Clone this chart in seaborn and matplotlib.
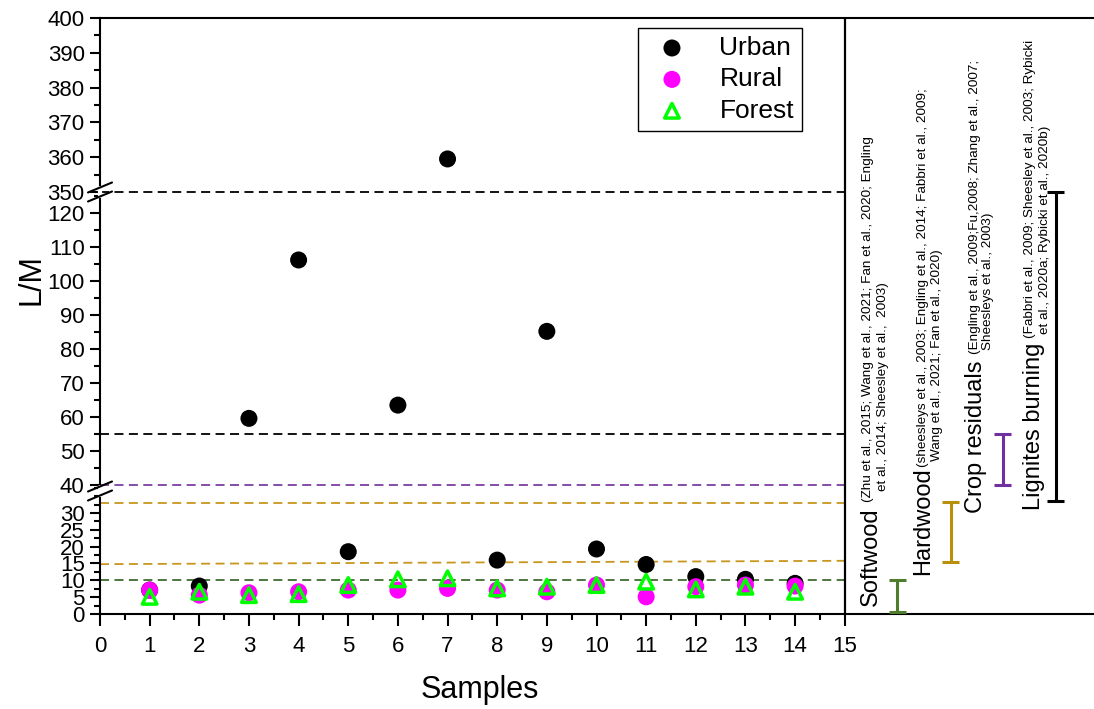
import numpy as np
import pandas as pd
import seaborn as sns
import matplotlib.pyplot as plt
from matplotlib.lines import Line2D
from matplotlib.ticker import MultipleLocator

sns.set_style('white')
plt.rcParams['font.family'] = ['Liberation Sans', 'DejaVu Sans']
plt.rcParams['text.color'] = 'black'
plt.rcParams['xtick.color'] = 'black'
plt.rcParams['ytick.color'] = 'black'
plt.rcParams['axes.labelcolor'] = 'black'

# L/M ratio per sample
samples = list(range(1, 15))
urban = [7.1, 8.3, 59.6, 106.2, 18.5, 63.5, 359.5, 16.0, 85.2, 19.3, 14.7, 11.1, 10.3, 9.1]
rural = [7.1, 5.6, 6.3, 6.6, 7.1, 7.1, 7.6, 7.1, 6.6, 8.6, 5.1, 8.1, 8.6, 8.3]
forest = [5.1, 6.6, 5.6, 5.9, 8.6, 10.3, 10.6, 7.6, 8.1, 8.6, 9.6, 7.3, 8.1, 6.6]

# literature ranges of L/M for emission sources
source_names = ['Softwood', 'Hardwood', 'Crop residuals', 'Lignites burning']
source_low = [0.7, 15.4, 40, 33.6]
source_high = [10, 33.2, 55, 350]
source_refs = [
    ['(Zhu et al., 2015; Wang et al., 2021; Fan et al., 2020; Engling',
     'et al., 2014; Sheesley et al.,  2003)'],
    ['(sheesleys et al., 2003; Engling et al., 2014; Fabbri et al., 2009;',
     'Wang et al., 2021; Fan et al., 2020)'],
    ['(Engling et al., 2009;Fu,2008; Zhang et al., 2007;',
     'Sheesleys et al., 2003)'],
    ['(Fabbri et al., 2009; Sheesley et al., 2003; Rybicki',
     'et al., 2020a; Rybicki et al., 2020b)'],
]
source_colors = ['#4e7d2e', '#b8900a', '#7030a0', 'black']

# dashed reference levels
ref_levels = [10, 33, 40, 55, 350]
ref_colors = ['#3f6b30', '#c8961e', '#7b3fa0', 'black', 'black']
slant_level = [14.8, 15.8]

W, H = 1094, 709
def fx(p):
    return p / W
def fy(p):
    return 1 - p / H

fig = plt.figure(figsize=(W / 100, H / 100), dpi=100)
left, right = fx(100), fx(1093)
ax_top = fig.add_axes([left, fy(192), right - left, fy(18) - fy(192)])
ax_mid = fig.add_axes([left, fy(485), right - left, fy(192) - fy(485)])
ax_bot = fig.add_axes([left, fy(614), right - left, fy(485) - fy(614)])
axes = [ax_top, ax_mid, ax_bot]
ax_top.set_ylim(350, 400)
ax_mid.set_ylim(40, 126.2)
ax_bot.set_ylim(0, 38.3)

for ax in axes:
    ax.set_xlim(0, 20)
    ax.set_facecolor('none')
    for s in ax.spines.values():
        s.set_linewidth(1.5)
        s.set_color('black')
    ax.spines['right'].set_visible(False)
    ax.tick_params(axis='y', which='major', direction='out', length=7, width=1.5,
                   labelsize=16, pad=4, left=True, colors='black')
    ax.tick_params(axis='y', which='minor', direction='out', length=4, width=1.5, left=True)
    ax.tick_params(axis='x', bottom=False, labelbottom=False)
    ax.axvline(15, color='black', lw=1.6, zorder=4)

ax_top.spines['bottom'].set_visible(False)
ax_mid.spines['top'].set_visible(False)
ax_mid.spines['bottom'].set_visible(False)
ax_bot.spines['top'].set_visible(False)

ax_top.set_yticks(range(350, 401, 10))
ax_top.yaxis.set_minor_locator(MultipleLocator(5))
ax_mid.set_yticks(range(40, 121, 10))
ax_mid.yaxis.set_minor_locator(MultipleLocator(5))
ax_bot.set_yticks(range(0, 31, 5))
ax_bot.yaxis.set_minor_locator(MultipleLocator(2.5))

ax_bot.set_xticks(range(0, 16))
ax_bot.set_xticks(np.arange(0.5, 15, 1), minor=True)
ax_bot.tick_params(axis='x', which='major', bottom=True, labelbottom=True, direction='out',
                   length=8.5, width=1.5, labelsize=16, pad=7)
ax_bot.tick_params(axis='x', which='minor', bottom=True, direction='out', length=4.3, width=1.5)

# dashed reference lines
for v, c in zip(ref_levels, ref_colors):
    for ax in axes:
        lo, hi = ax.get_ylim()
        if lo <= v <= hi:
            ax.plot([0, 15], [v, v], color=c, lw=1.3, ls=(0, (5, 3)), clip_on=False, zorder=1)
ax_bot.plot([0, 15], slant_level, color=ref_colors[1], lw=1.3, ls=(0, (5, 3)), zorder=1)

# scatter points
df = pd.DataFrame({'Sample': samples, 'Urban': urban, 'Rural': rural, 'Forest': forest})
for ax in axes:
    sns.scatterplot(data=df, x='Sample', y='Urban', ax=ax, color='black', s=150,
                    edgecolor='none', zorder=3, label='Urban')
    sns.scatterplot(data=df, x='Sample', y='Rural', ax=ax, color='#ff00ff', s=150,
                    edgecolor='none', zorder=3, label='Rural')
    sns.scatterplot(data=df, x='Sample', y='Forest', ax=ax, marker='^', s=110,
                    facecolors='none', edgecolor='#00ff00', linewidth=2.5, zorder=3,
                    label='Forest')
    if ax.get_legend() is not None:
        ax.get_legend().remove()
    ax.set_xlabel('')
    ax.set_ylabel('')

# source range bars
bar_x = [16.06, 17.13, 18.18, 19.25]
cap = 0.17
for x, lo, hi, c in zip(bar_x, source_low, source_high, source_colors):
    for ax in axes:
        ax.vlines(x, lo, hi, color=c, lw=2.2, zorder=3)
        ylo, yhi = ax.get_ylim()
        for v in (lo, hi):
            if ylo <= v <= yhi:
                ax.hlines(v, x - cap, x + cap, color=c, lw=2.2, clip_on=False, zorder=3)

handles, labels = ax_bot.get_legend_handles_labels()
leg = fig.legend(handles[:3], labels[:3], loc='upper right', bbox_to_anchor=(fx(802), fy(28)),
                 fontsize=19, frameon=True, fancybox=False, framealpha=1, edgecolor='black',
                 borderpad=0.3, labelspacing=0.28, handletextpad=0.8, handlelength=2,
                 borderaxespad=0)
leg.get_frame().set_linewidth(1)

# axis break marks
for yc in (192, 491):
    fig.add_artist(Line2D([fx(100), fx(100)], [fy(yc - 4), fy(yc + 4)], color='white',
                          lw=3, transform=fig.transFigure, zorder=5))
    for dy in (-4.5, 4.5):
        fig.add_artist(Line2D([fx(88), fx(112)], [fy(yc + dy + 5), fy(yc + dy - 5)],
                              color='black', lw=1.5, transform=fig.transFigure, zorder=6))

# source labels and references
label_pos = [(877, 606), (929, 575), (982, 513), (1040, 510)]
ref1_pos = [(871, 502), (926, 467), (978, 354), (1033, 338)]
ref2_pos = [(886, 491), (940, 461), (991, 350), (1048, 334)]
for name, refs, p, r1, r2 in zip(source_names, source_refs, label_pos, ref1_pos, ref2_pos):
    fig.text(fx(p[0]), fy(p[1]), name, rotation=90, rotation_mode='anchor',
             ha='left', va='baseline', fontsize=17)
    fig.text(fx(r1[0]), fy(r1[1]), refs[0], rotation=90, rotation_mode='anchor',
             ha='left', va='baseline', fontsize=9.7)
    fig.text(fx(r2[0]), fy(r2[1]), refs[1], rotation=90, rotation_mode='anchor',
             ha='left', va='baseline', fontsize=9.7)

fig.text(fx(31), fy(280), 'L/M', rotation=90, ha='center', va='center', fontsize=22)
fig.text(fx(480), fy(690), 'Samples', ha='center', va='center', fontsize=22)

fig.savefig('out.png', dpi=100, facecolor='white')
